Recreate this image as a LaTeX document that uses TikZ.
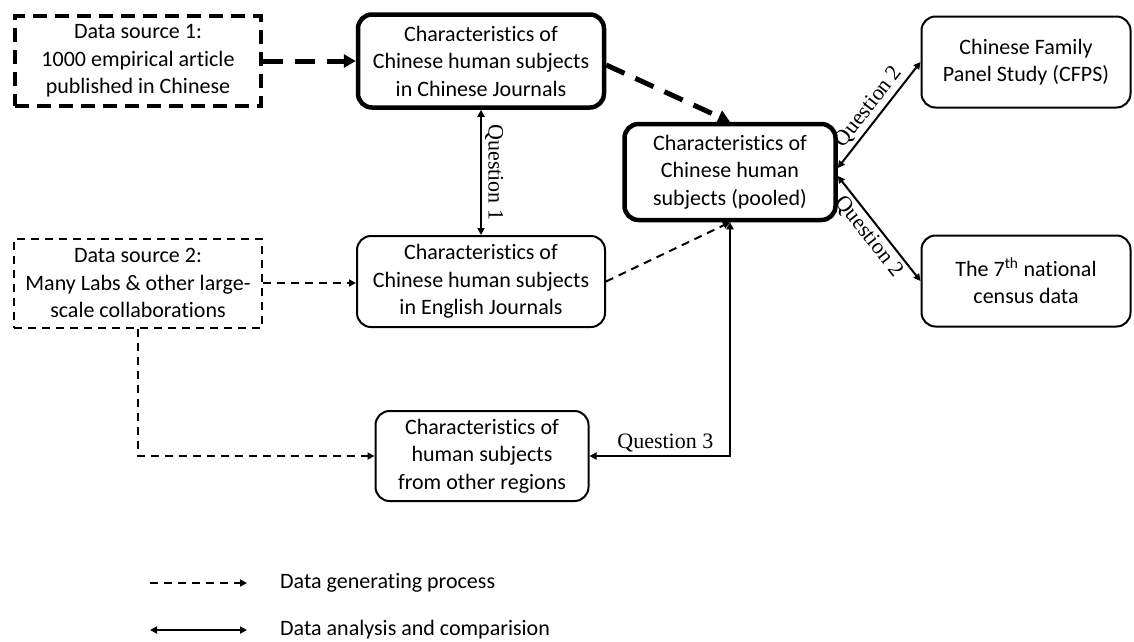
\documentclass[tikz,border=0pt]{standalone}
\usepackage{fontspec}
\setmainfont[Ligatures=NoCommon]{Carlito}
\newfontfamily\qfont{Liberation Serif}
\usetikzlibrary{arrows.meta,calc}
\begin{document}
\begin{tikzpicture}[x=1pt,y=-1pt,
  txt/.style={font=\fontsize{22}{27.5}\selectfont},
  box/.style={txt, draw, rounded corners=14pt, line width=2pt, align=center, inner sep=0pt},
  boldbox/.style={box, line width=4.5pt},
  srcthick/.style={txt, draw, align=center, inner sep=0pt, line width=4.5pt, dash pattern=on 14pt off 8pt},
  srcthin/.style={txt, draw, align=center, inner sep=0pt, line width=2pt, dash pattern=on 8pt off 6pt},
  gen/.style={line width=2pt, dash pattern=on 8pt off 6pt, -{Triangle[length=7pt,width=7pt]}},
  genbold/.style={line width=5pt, dash pattern=on 20pt off 12pt, -{Triangle[length=12pt,width=13pt]}},
  ana/.style={line width=2pt, {Triangle[length=7pt,width=7pt]}-{Triangle[length=7pt,width=7pt]}},
  qlab/.style={font=\qfont\fontsize{22}{24}\selectfont, inner sep=3pt}
]
\useasboundingbox[fill=white] (0,0) rectangle (1134,641);

\node[srcthick, minimum width=246pt, minimum height=90pt] (ds1) at (138,61)
  {Data source 1:\\1000 empirical article\\published in Chinese};
\node[boldbox, minimum width=246pt, minimum height=93pt] (cj) at (481,61)
  {Characteristics of\\Chinese human subjects\\in Chinese Journals};
\node[boldbox, minimum width=211pt, minimum height=96pt] (pooled) at (730,172)
  {Characteristics of\\Chinese human\\subjects (pooled)};
\node[box, minimum width=209pt, minimum height=91pt] (cfps) at (1026,62)
  {Chinese Family\\Panel Study (CFPS)};
\node[box, minimum width=209pt, minimum height=91pt] (census) at (1026,281)
  {The 7\textsuperscript{th} national\\census data};
\node[srcthin, minimum width=248pt, minimum height=89pt] (ds2) at (138,283)
  {Data source 2:\\Many Labs \& other large-\\scale collaborations};
\node[box, minimum width=248pt, minimum height=91pt] (ej) at (481,281.5)
  {Characteristics of\\Chinese human subjects\\in English Journals};
\node[box, minimum width=213pt, minimum height=90pt] (other) at (482,456)
  {Characteristics of\\human subjects\\from other regions};

% data generating process
\draw[genbold] (ds1.east) -- (cj.west);
\draw[genbold] ($(cj.east)+(0,4)$) -- (pooled.north);
\draw[gen] (ds2.east) -- (ds2.east -| ej.west);
\draw[gen] (ds2.south) |- (other.west);
\draw[gen] (ej.east) -- (pooled.south);

% analysis
\draw[ana] (cj.south) -- (ej.north) node[midway, anchor=south, rotate=-90, qlab] {Question 1};
\draw[ana] ($(pooled.east)+(0,-4)$) -- (cfps.west) node[midway, above, sloped, qlab] {Question 2};
\draw[ana] ($(pooled.east)+(0,4)$) -- (census.west) node[midway, below, sloped, qlab] {Question 2};
\draw[ana] (pooled.south) |- (other.east) node[pos=0.73, above, qlab] {Question 3};

% legend
\coordinate (l1a) at (150,583);
\coordinate (l1b) at (247,583);
\coordinate (l2a) at (150,630);
\coordinate (l2b) at (247,630);
\draw[gen] (l1a) -- (l1b);
\draw[ana] (l2a) -- (l2b);
\node[txt, anchor=west, inner sep=0pt] (leg1) at (280,583) {Data generating process};
\node[txt, anchor=west, inner sep=0pt] (leg2) at (280,630) {Data analysis and comparision};
\end{tikzpicture}
\end{document}
